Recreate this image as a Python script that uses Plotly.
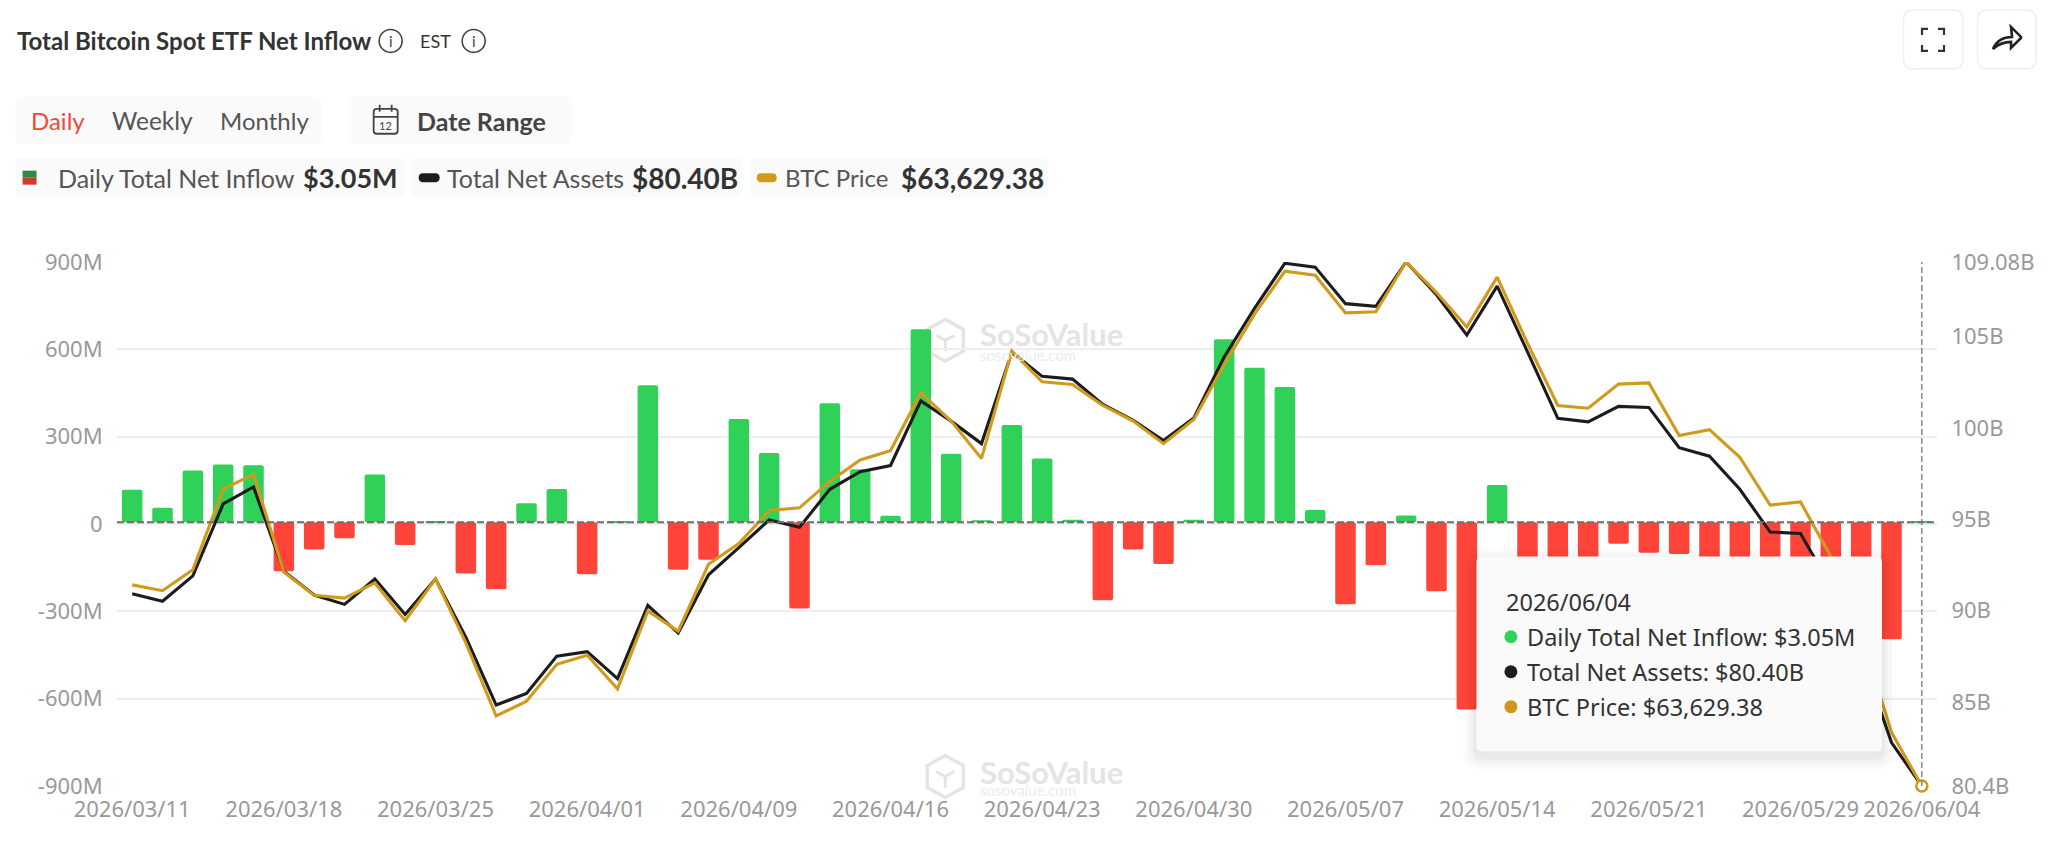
import plotly.graph_objects as go

dates = ["2026/03/11","2026/03/12","2026/03/13","2026/03/16","2026/03/17","2026/03/18","2026/03/19","2026/03/20","2026/03/23","2026/03/24",
"2026/03/25","2026/03/26","2026/03/27","2026/03/30","2026/03/31","2026/04/01","2026/04/02","2026/04/06","2026/04/07","2026/04/08",
"2026/04/09","2026/04/10","2026/04/13","2026/04/14","2026/04/15","2026/04/16","2026/04/17","2026/04/20","2026/04/21","2026/04/22",
"2026/04/23","2026/04/24","2026/04/27","2026/04/28","2026/04/29","2026/04/30","2026/05/01","2026/05/04","2026/05/05","2026/05/06",
"2026/05/07","2026/05/08","2026/05/11","2026/05/12","2026/05/13","2026/05/14","2026/05/15","2026/05/18","2026/05/19","2026/05/20",
"2026/05/21","2026/05/22","2026/05/26","2026/05/27","2026/05/28","2026/05/29","2026/06/01","2026/06/02","2026/06/03","2026/06/04"]

net_inflow = [112,50,178,198,196,-168,-94,-55,164,-78,
4,-176,-230,65,114,-179,4,471,-163,-129,
355,238,-296,409,182,22,663,235,7,334,
219,9,-268,-94,-143,9,629,531,465,42,
-282,-148,23,-237,-643,128,-165,-150,-140,-74,
-105,-109,-130,-135,-140,-150,-160,-170,-402,3.05]

net_assets = [90.92,90.51,91.90,95.84,96.77,92.15,90.85,90.34,91.73,89.79,
91.73,88.55,84.83,85.47,87.51,87.75,86.28,90.28,88.77,91.96,
93.45,94.96,94.56,96.64,97.60,97.94,101.48,100.37,99.14,104.14,
102.82,102.67,101.29,100.41,99.31,100.54,103.88,106.54,109.01,108.80,
106.80,106.65,109.08,107.29,105.08,107.76,104.16,100.52,100.33,101.18,
101.12,98.92,98.45,96.64,94.30,94.22,91.32,87.60,82.78,80.40]

btc_price = [70681,70476,71213,74036,74555,71131,70313,70217,70749,69426,
70885,68649,66084,66603,67898,68212,67039,69767,69058,71404,
72127,73286,73382,74309,75059,75387,77419,76423,75114,78879,
77801,77705,76969,76423,75632,76478,78401,80174,81675,81538,
80215,80256,82000,80925,79724,81470,79151,76969,76873,77719,
77760,75919,76123,75155,73477,73586,71677,68921,65511,63629.38]

x_tick_labels = ["2026/03/11","2026/03/18","2026/03/25","2026/04/01","2026/04/09","2026/04/16","2026/04/23",
"2026/04/30","2026/05/07","2026/05/14","2026/05/21","2026/05/29","2026/06/04"]
left_ticks = [-900,-600,-300,0,300,600,900]
left_labels = ["-900M","-600M","-300M","0","300M","600M","900M"]
right_ticks = [80.4,85,90,95,100,105,109.08]
right_labels = ["80.4B","85B","90B","95B","100B","105B","109.08B"]

GREEN, RED, BLACK, GOLD = "#30d158", "#ff453a", "#1c1c1e", "#d09a1c"
W_PAGE, H_PAGE = 2048, 841
L, R, T, B = 117.4, 111, 261.5, 54.5
W, H = W_PAGE - L - R, H_PAGE - T - B
BASELINE = 6  # the reference draws its zero line about 2px above the midpoint of the grid
px = lambda x: (x - L) / W
py = lambda y: 1 - (y - T) / H
FONT = "Noto Sans"
LATO = "Lato"

shapes, ann = [], []

def path(d, fill=None, line=None, lw=0, layer="above"):
    out = []
    for tok in d:
        if isinstance(tok, str):
            out.append(tok)
        else:
            out.append(f"{px(tok[0]):.5f},{py(tok[1]):.5f}")
    shapes.append(dict(type="path", xref="paper", yref="paper", path=" ".join(out), layer=layer,
                       fillcolor=fill or "rgba(0,0,0,0)", line=dict(color=line or "rgba(0,0,0,0)", width=lw)))

def rrect(x0, y0, x1, y1, r, fill=None, line=None, lw=0, layer="above"):
    path(["M",(x0+r,y0),"L",(x1-r,y0),"Q",(x1,y0),(x1,y0+r),"L",(x1,y1-r),"Q",(x1,y1),(x1-r,y1),
          "L",(x0+r,y1),"Q",(x0,y1),(x0,y1-r),"L",(x0,y0+r),"Q",(x0,y0),(x0+r,y0),"Z"], fill, line, lw, layer)

def circle(cx, cy, r, fill=None, line=None, lw=0, layer="above"):
    shapes.append(dict(type="circle", xref="paper", yref="paper", x0=px(cx-r), x1=px(cx+r), y0=py(cy+r), y1=py(cy-r),
                       layer=layer, fillcolor=fill or "rgba(0,0,0,0)", line=dict(color=line or "rgba(0,0,0,0)", width=lw)))

def text(x, y, s, size, color="#444", bold=False, font=LATO, anchor="left"):
    if bold:
        s = f"<b>{s}</b>"
    ann.append(dict(xref="paper", yref="paper", x=px(x), y=py(y), text=s, showarrow=False, xanchor=anchor, yanchor="middle",
                    borderpad=0, font=dict(size=size, color=color, family=font)))

# watermark (behind the marks)
WM = "#e4e4e4"
for cy, ty, sy in [(340, 334, 355), (777, 772, 791)]:
    cx = 945.5
    path(["M",(cx,cy-21),"L",(cx+18,cy-11),"L",(cx+18,cy+11),"L",(cx,cy+21),"L",(cx-18,cy+11),"L",(cx-18,cy-11),"Z"],
         None, WM, 3.5, "below")
    path(["M",(cx-9,cy-5),"L",(cx,cy),"L",(cx+9,cy-5),"M",(cx,cy),"L",(cx,cy+11)], None, WM, 3, "below")
    text(979, ty, "SoSoValue", 31, WM, True)
    text(979, sy, "sosovalue.com", 15, "#ececec")

# zero line
shapes.append(dict(type="line", xref="paper", yref="y", x0=0, x1=1, y0=BASELINE, y1=BASELINE, layer="above",
                   line=dict(color="#6e6e6e", width=2, dash="7px,3px")))
# crosshair
shapes.append(dict(type="line", xref="x", yref="paper", x0=dates[-1], x1=dates[-1], y0=0, y1=1, layer="above",
                   line=dict(color="#777777", width=1.3, dash="6px,3px")))

# tooltip
for i, a in [(14,0.012),(10,0.018),(6,0.025),(3,0.03)]:
    rrect(1476.6-i, 556.6-i+5, 1882+i, 752+i+5, 6+i, f"rgba(0,0,0,{a})")
rrect(1476.6, 556.6, 1882, 752, 6, "#fafafa")
text(1505, 602, "2026/06/04", 23.5, "#333", font=FONT)
for cy, col, s in [(637, GREEN, "Daily Total Net Inflow: $3.05M"), (672, BLACK, "Total Net Assets: $80.40B"),
                   (707, "#d0951a", "BTC Price: $63,629.38")]:
    circle(1511, cy, 6.5, col)
    text(1526, cy, s, 23.5, "#333", font=FONT)

# header
text(16, 40, "Total Bitcoin Spot ETF Net Inflow", 24, "#333", True)
for cx in (391, 474):
    circle(cx, 40, 11.5, None, "#444", 1.6)
    text(cx, 40, "i", 15, "#444", anchor="center")
text(419, 40, "EST", 18, "#333")

# period pills
rrect(16, 96, 322, 143, 6, "#fafafa")
rrect(349, 96, 572, 143, 6, "#fafafa")
text(30, 120, "Daily", 24, "#f4473b")
text(111, 120, "Weekly", 24.5, "#555")
text(219, 120, "Monthly", 24, "#555")
rrect(374, 108, 398, 133, 3, None, "#444", 1.8)
path(["M",(374,116),"L",(398,116),"M",(380,104),"L",(380,111),"M",(392,104),"L",(392,111)], None, "#444", 1.8)
text(386, 125, "12", 11, "#444", anchor="center")
text(416, 120, "Date Range", 25, "#444", True)

# legend pills
rrect(16, 157, 405, 196, 5, "#fafafa")
rrect(412, 157, 742, 196, 5, "#fafafa")
rrect(750, 157, 1048, 196, 5, "#fafafa")
path(["M",(23,170),"L",(37,170),"L",(37,177),"L",(23,177),"Z"], "#2e8b47")
path(["M",(23,177),"L",(37,177),"L",(37,184),"L",(23,184),"Z"], "#d23a30")
text(57, 177, "Daily Total Net Inflow", 25, "#555")
text(302, 177, "$3.05M", 27, "#333", True)
rrect(419, 172.5, 440, 181.5, 4.5, BLACK)
text(446, 177, "Total Net Assets", 25, "#555")
text(631, 177, "$80.40B", 28, "#333", True)
rrect(757, 172.5, 777, 181.5, 4.5, GOLD)
text(784, 177, "BTC Price", 24, "#555")
text(900, 177, "$63,629.38", 28, "#333", True)

# top-right buttons
rrect(1903.5, 9, 1963, 68, 10, "#ffffff", "#eeeeee", 1.5)
rrect(1977.5, 9, 2036, 68, 10, "#ffffff", "#eeeeee", 1.5)
for sx, sy, xi, yi in [(1922,28,1,1),(1944,28,-1,1),(1922,50,1,-1),(1944,50,-1,-1)]:
    path(["M",(sx,sy+6*yi),"L",(sx,sy),"L",(sx+6*xi,sy)], None, "#333", 2.2)
path(["M",(1993,48),"Q",(1998,36),(2012,36),"L",(2011,26),"L",(2021,36),"L",(2021,37),"L",(2011,47),"L",(2011,41),
      "Q",(2001,41),(1993,48),"Z"], None, "#222", 2.6)

fig = go.Figure()
fig.add_bar(x=dates, y=net_inflow, base=BASELINE,
            marker=dict(color=[GREEN if v >= 0 else RED for v in net_inflow], cornerradius=2, line=dict(width=0)),
            yaxis="y", showlegend=False, hoverinfo="skip")
fig.add_scatter(x=dates, y=net_assets, mode="lines", line=dict(color=BLACK, width=3.1), yaxis="y2",
                showlegend=False, hoverinfo="skip", cliponaxis=False)
fig.add_scatter(x=dates, y=btc_price, mode="lines", line=dict(color=GOLD, width=3.1), yaxis="y3",
                showlegend=False, hoverinfo="skip", cliponaxis=False)
fig.add_scatter(x=dates[-1:], y=btc_price[-1:], mode="markers", yaxis="y3", showlegend=False, hoverinfo="skip", cliponaxis=False,
                marker=dict(color="#ffffff", size=11, line=dict(color=GOLD, width=2.6)))

tick_font = dict(size=22, color="#999999", family=FONT)
fig.update_layout(
    width=W_PAGE, height=H_PAGE, margin=dict(l=L, r=R, t=T, b=B, pad=0, autoexpand=False),
    paper_bgcolor="#ffffff", plot_bgcolor="#ffffff", bargap=0.324, hovermode=False,
    xaxis=dict(type="category", categoryorder="array", categoryarray=dates, range=[-0.5, 59.5],
               tickmode="array", tickvals=x_tick_labels, ticktext=x_tick_labels, tickangle=0,
               showgrid=False, showline=False, zeroline=False, ticks="outside", ticklen=4, tickcolor="rgba(0,0,0,0)",
               tickfont=tick_font),
    yaxis=dict(range=[-900, 900], tickmode="array", tickvals=left_ticks, ticktext=left_labels, showgrid=True,
               gridcolor="#eeeeee", gridwidth=2, zeroline=False, showline=False, ticks="outside", ticklen=9,
               tickcolor="rgba(0,0,0,0)", tickfont=tick_font),
    yaxis2=dict(range=[80.4, 109.08], overlaying="y", side="right", tickmode="array", tickvals=right_ticks, ticktext=right_labels,
                showgrid=False, zeroline=False, showline=False, ticks="outside", ticklen=9, tickcolor="rgba(0,0,0,0)", tickfont=tick_font),
    yaxis3=dict(range=[63629.38, 82000], overlaying="y", side="right", visible=False),
    shapes=shapes, annotations=ann,
)
fig.write_html("out.html", config=dict(displayModeBar=False),
               post_script="document.body.style.margin='0';document.documentElement.style.overflow='hidden';")
